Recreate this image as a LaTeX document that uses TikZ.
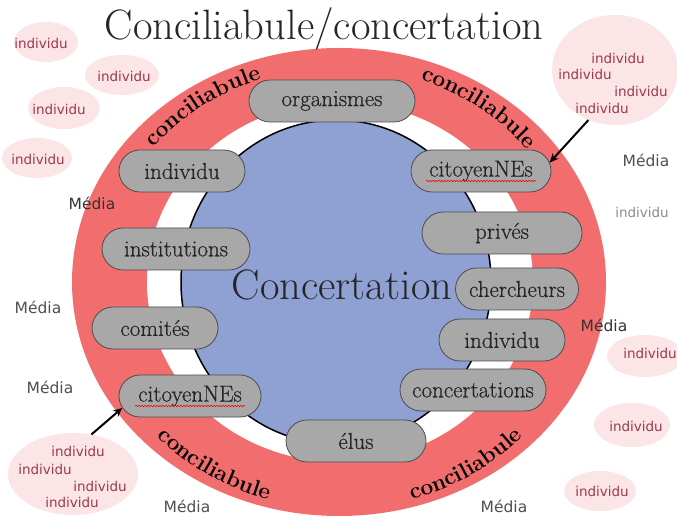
\documentclass[tikz,border=0pt]{standalone}
\usepackage{fontspec}
\newfontfamily\smallsans{DejaVu Sans}
\newfontfamily\pillfont[FakeBold=0.6]{Latin Modern Roman}
\usetikzlibrary{shapes.geometric,shapes.misc,decorations.text,decorations.pathmorphing,arrows.meta}
\definecolor{ringred}{HTML}{F26E6E}
\definecolor{cblue}{HTML}{8FA0D3}
\definecolor{nodegray}{HTML}{A8A8A8}
\definecolor{pinkbg}{HTML}{FCE5E7}
\definecolor{indred}{HTML}{9C3A50}
\definecolor{mediagray}{HTML}{505050}
\newcommand\concfont{\fontsize{22.5}{22.5}\bfseries\selectfont}
\begin{document}
\begin{tikzpicture}[x=1pt,y=1pt,
  pill/.style={rounded rectangle, draw=black!70, line width=0.8pt, fill=nodegray, minimum height=42pt, inner sep=0pt, font=\pillfont\fontsize{23}{23}\selectfont, text=black!85},
  blob/.style={ellipse, fill=pinkbg, inner sep=0pt},
  indtext/.style={font=\smallsans\fontsize{13.5}{13.5}\selectfont, text=indred, inner sep=0pt},
  mediatext/.style={font=\smallsans\fontsize{15.5}{15.5}\selectfont, text=mediagray, inner sep=0pt},
  arr/.style={-{Stealth[length=9pt,width=8pt]}, line width=2pt},
  conc/.style={decorate, decoration={text along path, text align=center, text={|\concfont|conciliabule}}},
  wavy/.style={draw=red, line width=0.5pt, decorate, decoration={snake, amplitude=0.8pt, segment length=3pt}}
]
\useasboundingbox (0,0) rectangle (677,517);
\fill[white] (0,0) rectangle (677,517);

% rings
\fill[ringred] (339,235) ellipse[x radius=267, y radius=234];
\fill[white] (340,235) ellipse[x radius=193, y radius=180];
\filldraw[fill=cblue, draw=black, line width=1.5pt] (336,235) ellipse[x radius=155, y radius=162];

% curved labels
\path[conc] (340,235) ++(147:238 and 215) arc[start angle=147, end angle=104, x radius=238, y radius=215];
\path[conc] (340,235) ++(74:238 and 215) arc[start angle=74, end angle=34, x radius=238, y radius=215];
\path[conc] (340,235) ++(218:250 and 227) arc[start angle=218, end angle=258, x radius=250, y radius=227];
\path[conc] (340,235) ++(282:250 and 227) arc[start angle=282, end angle=322, x radius=250, y radius=227];

% titles
\node[font=\fontsize{42.5}{42.5}\selectfont, text=black!85, anchor=base, inner sep=0pt] (title) at (324,477) {Conciliabule/concertation};
\node[font=\fontsize{42.5}{42.5}\selectfont, text=black!85, anchor=base, inner sep=0pt] (conc) at (342,217) {Concertation};

% pills
\node[pill, minimum width=166pt] (org) at (332,416) {organismes};
\node[pill, minimum width=126pt] (indL) at (182,346) {individu};
\node[pill, minimum width=148pt] (inst) at (176,268) {institutions};
\node[pill, minimum width=126pt] (com) at (155,189) {comités};
\node[pill, minimum width=142pt] (citL) at (190,121) {citoyenNEs};
\node[pill, minimum width=140pt] (elus) at (356,76) {élus};
\node[pill, minimum width=146pt] (concs) at (473,127) {concertations};
\node[pill, minimum width=126pt] (indR) at (502,177) {individu};
\node[pill, minimum width=123pt] (cher) at (517,228) {chercheurs};
\node[pill, minimum width=160pt] (priv) at (502,284) {privés};
\node[pill, minimum width=140pt] (citR) at (481,346) {citoyenNEs};
\path[wavy] ([xshift=-55pt,yshift=-10pt]citL.center) -- ([xshift=55pt,yshift=-10pt]citL.center);
\path[wavy] ([xshift=-55pt,yshift=-10pt]citR.center) -- ([xshift=55pt,yshift=-10pt]citR.center);

% pink blobs
\node[blob, minimum width=64pt, minimum height=40pt] (b1) at (46,475) {};
\node[indtext] (t1) at (41,474) {individu};
\node[blob, minimum width=74pt, minimum height=40pt] (b2) at (122,442) {};
\node[indtext] (t2) at (124,441) {individu};
\node[blob, minimum width=72pt, minimum height=42pt] (b3) at (64,409) {};
\node[indtext] (t3) at (59,408) {individu};
\node[blob, minimum width=70pt, minimum height=40pt] (b4) at (37,359) {};
\node[indtext] (t4) at (38,358) {individu};
\node[blob, minimum width=126pt, minimum height=110pt] (bigR) at (615,447) {};
\node[indtext] (r1) at (618,459) {individu};
\node[indtext] (r2) at (585,443) {individu};
\node[indtext] (r3) at (641,426) {individu};
\node[indtext] (r4) at (602,409) {individu};
\node[blob, minimum width=130pt, minimum height=82pt] (bigL) at (73,43) {};
\node[indtext] (l1) at (78,66) {individu};
\node[indtext] (l2) at (45,48) {individu};
\node[indtext] (l3) at (100,31) {individu};
\node[indtext] (l4) at (72,15) {individu};
\node[blob, minimum width=76pt, minimum height=42pt] (b5) at (645,161) {};
\node[indtext] (t5) at (650,164) {individu};
\node[blob, minimum width=76pt, minimum height=44pt] (b6) at (632,92) {};
\node[indtext] (t6) at (636,91) {individu};
\node[blob, minimum width=72pt, minimum height=40pt] (b7) at (600,26) {};
\node[indtext] (t7) at (602,26) {individu};
\node[indtext, text=black!45] (t8) at (642,305) {individu};

% media
\node[mediatext, text=black!80] (m1) at (92,314) {Média};
\node[mediatext] (m2) at (646,357) {Média};
\node[mediatext] (m3) at (38,210) {Média};
\node[mediatext] (m4) at (50,130) {Média};
\node[mediatext] (m5) at (187,11) {Média};
\node[mediatext, text=black!80] (m6) at (604,192) {Média};
\node[mediatext] (m7) at (504,11) {Média};

% arrows
\draw[arr] (bigR.242) -- (citR.7);
\draw[arr] (bigL.65) -- (citL.190);
\end{tikzpicture}
\end{document}
